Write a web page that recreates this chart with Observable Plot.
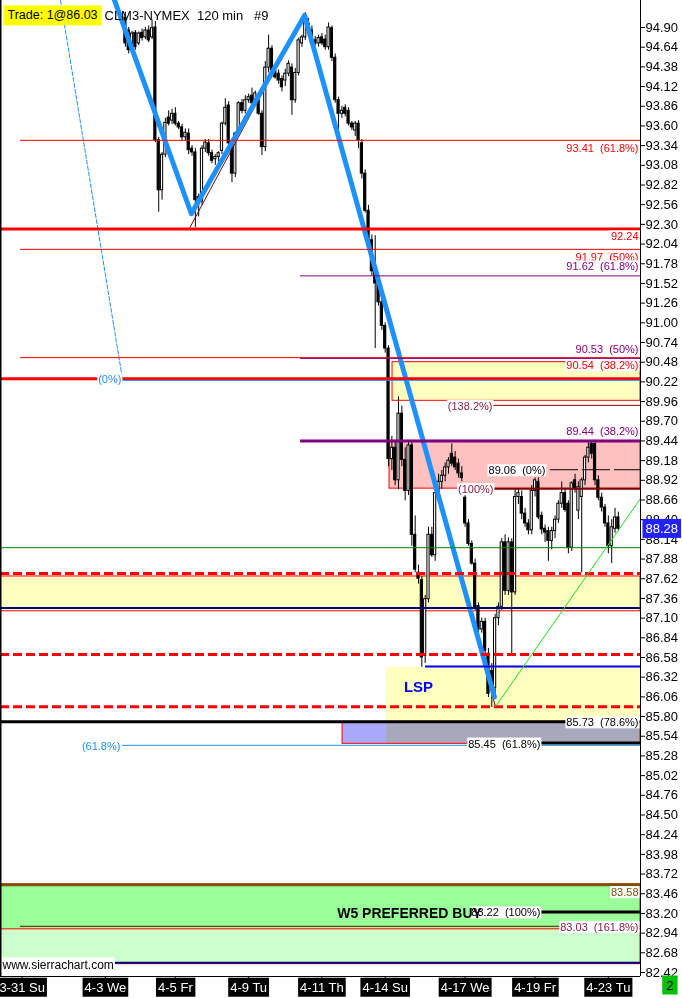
<!DOCTYPE html>
<html>
<head>
<meta charset="utf-8">
<script src="https://cdn.jsdelivr.net/npm/d3@7"></script>
<script src="https://cdn.jsdelivr.net/npm/@observablehq/plot@0.6"></script>
<style>
  html,body{margin:0;padding:0;background:#fff;}
  #chart svg{display:block;}
</style>
</head>
<body>
<div id="chart"></div>
<script>
// ---------- DATA ----------
// 120-min bars, CLM3 (open, high, low, close)
const candles = [
 [95.03,95.10,94.64,94.69],[94.86,94.90,94.55,94.60],[94.60,94.85,94.55,94.82],[94.83,94.86,94.60,94.64],
 [94.69,94.84,94.66,94.82],[94.83,94.88,94.72,94.76],[94.77,94.90,94.74,94.86],[94.86,94.92,94.70,94.73],
 [94.77,95.00,94.74,94.89],[94.90,94.98,93.38,93.41],[93.41,93.45,92.46,92.75],[92.75,93.25,92.62,93.22],
 [93.22,93.70,93.18,93.64],[93.71,93.80,93.60,93.63],[93.67,93.82,93.62,93.76],[93.76,93.84,93.60,93.63],
 [93.63,93.66,93.55,93.58],[93.58,93.62,93.40,93.45],[93.45,93.56,93.40,93.51],[93.50,93.56,93.22,93.28],
 [93.30,93.34,93.20,93.25],[93.25,93.30,92.26,92.62],[92.66,92.70,92.40,92.58],[92.60,93.34,92.55,93.30],
 [93.30,93.42,93.25,93.38],[93.37,93.42,93.20,93.24],[93.24,93.28,93.10,93.14],[93.16,93.22,93.08,93.19],
 [93.19,93.26,93.12,93.24],[93.27,93.65,93.22,93.63],[93.63,93.96,93.60,93.84],[93.87,93.92,93.33,93.37],
 [93.32,93.36,92.85,92.97],[92.97,93.52,92.92,93.50],[93.54,93.92,93.50,93.90],[93.90,93.95,93.76,93.80],
 [93.80,94.00,93.76,93.94],[93.94,94.02,93.90,93.98],[94.00,94.10,93.88,93.90],[93.94,94.06,93.90,94.03],
 [93.94,94.00,93.74,93.76],[93.76,93.80,93.21,93.32],[93.32,94.45,93.26,94.37],[94.37,94.80,94.30,94.62],
 [94.62,94.66,94.30,94.33],[94.33,94.38,94.22,94.24],[94.29,94.34,94.15,94.20],[94.22,94.26,94.05,94.11],
 [94.20,94.35,94.12,94.29],[94.29,94.46,94.25,94.42],[94.37,94.42,93.74,93.94],[93.94,94.36,93.90,94.30],
 [94.30,94.76,94.26,94.73],[94.69,94.80,94.64,94.77],[94.77,95.06,94.73,94.99],[94.95,95.02,94.84,94.86],
 [94.86,94.92,94.66,94.69],[94.73,94.78,94.66,94.69],[94.69,94.80,94.64,94.76],[94.77,94.82,94.66,94.69],
 [94.74,94.80,94.60,94.64],[94.64,94.96,94.60,94.90],[94.89,94.92,94.45,94.50],[94.50,94.55,93.90,93.94],
 [93.94,93.98,93.54,93.76],[93.76,93.86,93.70,93.80],[93.84,93.88,93.72,93.76],[93.80,93.84,93.60,93.63],
 [93.63,93.66,93.54,93.58],[93.54,93.66,93.46,93.63],[93.63,93.67,93.30,93.41],[93.37,93.42,92.90,92.97],
 [92.97,93.02,92.45,92.48],[92.48,92.55,92.04,92.09],[92.09,92.16,91.62,91.68],[91.68,92.15,90.66,91.52],
 [91.52,91.56,91.22,91.27],[91.27,91.32,90.90,90.96],[90.96,91.00,90.60,90.66],[90.66,90.70,89.10,89.20],
 [89.20,89.50,89.05,89.35],[89.35,89.45,88.85,88.92],[88.92,90.02,88.80,89.80],[89.80,89.90,89.10,89.19],
 [89.19,89.35,88.65,88.78],[88.78,89.44,88.72,89.38],[89.38,89.44,88.05,88.20],[88.20,88.45,87.70,87.74],
 [87.70,87.80,87.55,87.62],[87.60,87.65,86.45,86.58],[86.60,87.40,86.50,87.35],[87.35,88.30,87.30,88.20],
 [88.20,88.30,87.90,87.93],[87.93,88.80,87.85,88.75],[88.75,89.00,88.60,88.90],[88.90,89.05,88.80,88.98],
 [88.98,89.15,88.90,89.09],[89.09,89.22,89.00,89.18],[89.27,89.40,89.10,89.14],[89.22,89.30,89.05,89.09],
 [89.14,89.20,88.95,89.01],[89.01,89.10,88.90,88.95],[88.69,88.80,88.30,88.35],[88.35,88.40,88.05,88.08],
 [88.08,88.12,87.80,87.82],[87.82,87.88,87.20,87.24],[87.26,87.30,86.90,86.95],[86.95,87.10,86.90,87.05],
 [87.05,87.10,86.62,86.67],[86.63,86.70,86.05,86.10],[86.40,86.50,85.92,86.18],[86.18,87.15,86.10,87.10],
 [87.10,87.30,87.00,87.25],[87.25,88.15,87.20,88.10],[88.10,88.20,87.40,87.46],[87.46,88.16,87.40,88.10],
 [88.10,88.15,86.62,87.44],[87.44,88.80,87.40,88.70],[88.70,88.80,88.60,88.75],[88.70,88.78,88.40,88.48],
 [88.48,88.55,88.30,88.35],[88.35,88.40,88.20,88.26],[88.26,88.85,88.20,88.78],[88.78,88.95,88.70,88.92],
 [88.90,88.95,88.40,88.43],[88.45,88.50,88.20,88.27],[88.28,88.33,88.10,88.23],[88.25,88.30,87.85,88.12],
 [88.12,88.30,88.00,88.25],[88.25,88.45,88.15,88.40],[88.40,88.65,88.35,88.61],[88.61,88.90,88.55,88.75],
 [88.75,88.80,88.50,88.53],[88.61,88.65,87.95,88.03],[88.03,88.90,87.98,88.88],[88.92,89.00,88.75,88.80],
 [88.52,88.90,88.40,88.83],[88.70,88.95,87.70,88.92],[88.92,89.25,88.85,89.22],[89.22,89.42,89.15,89.35],
 [89.40,89.44,89.20,89.27],[89.40,89.44,88.85,88.92],[88.92,88.98,88.65,88.69],[88.69,88.75,88.50,88.56],
 [88.56,88.60,88.30,88.35],[88.35,88.45,87.95,88.05],[88.05,88.40,87.82,88.30],[88.28,88.55,88.22,88.43],
 [88.43,88.50,88.25,88.28]
];
const lastPrice = 88.28;

// price axis labels (right)
const priceTicks = [94.90,94.64,94.38,94.12,93.86,93.60,93.34,93.08,92.82,92.56,92.30,92.04,91.78,91.52,91.26,
  91.00,90.74,90.48,90.22,89.96,89.70,89.44,89.18,88.92,88.66,88.40,88.14,87.88,87.62,87.36,87.10,86.84,86.58,
  86.32,86.06,85.80,85.54,85.28,85.02,84.76,84.50,84.24,83.98,83.72,83.46,83.20,82.94,82.68,82.42];

// date axis (bar number of each label)
const dateTickBars = [-31, -6, 15, 37, 59, 78, 102, 123, 145];
const dateLabels = ["3-31 Su","4-3 We","4-5 Fr","4-9 Tu","4-11 Th","4-14 Su","4-17 We","4-19 Fr","4-23 Tu"];

// visible window (bars, price)
const X_MIN = -37.5, X_MAX = 154.65, Y_MIN = 82.367, Y_MAX = 95.2566;

// drawn swing lines (bar, price)
const zigzag = [{i:-3.6,p:95.30},{i:19.8,p:92.44},{i:53.8,p:95.06},{i:110.8,p:86.06}];
const zigzagTrace = [{i:19.2,p:92.245},{i:54.05,p:95.10},{i:111.1,p:85.93}];
const swingLine = [{i:111.1,p:85.93},{i:154.65,p:88.68}];
const fibDiagonal = [{i:-19.5,p:95.2566},{i:-0.9,p:90.264}];

// horizontal levels (price, first bar)
const thickRedLevels = [92.24, 90.26];
const thinRedLevels = [{p:93.41,from:-31.5},{p:91.97,from:-31.5},{p:90.54,from:-31.5}];
const purpleLevels = [{p:91.62,from:52.6},{p:90.53,from:52.6}];
const purpleThickLevels = [{p:89.44,from:52.6}];
const maroonLevels = [{p:89.91,from:110},{p:83.03,from:-31.5}];
const maroonThickLevels = [{p:88.81,from:110.5}];
const dashedBlackLevels = [{p:89.06,from:118}];
const greenLevels = [88.03];
const dashedRedLevels = [87.69, 86.62, 85.93];
const navyLevels = [87.235, 82.55];
const blueLevels = [{p:86.46,from:90.1}];
const blackThickLevels = [{p:85.73,from:-37.5},{p:85.45,from:118},{p:83.22,from:118}];
const fibBlueLevels = [{p:90.24,from:-0.9},{p:85.42,from:-0.9}];
const brownLevels = [83.58];

// zones (low, high, first bar)
const yellowZones = [{lo:89.97,hi:90.48,from:80.2},{lo:87.19,hi:87.65,from:-37.5}];
const pinkZones = [{lo:88.81,hi:89.44,from:79.3}];
const lspZone = [{lo:85.44,hi:86.45,from:78.4}];
const lavenderZone = [{lo:85.44,hi:85.73,from:65.2}];
const lightGreenZone = [{lo:82.53,hi:83.58,from:-37.5}];
const greenZone = [{lo:82.99,hi:83.58,from:-37.5}];

// level labels
const rightLabels = [
 {p:93.41, t:"93.41\u00a0\u00a0(61.8%)", kind:"red", side:"below"},
 {p:92.24, t:"92.24", kind:"red", side:"below"},
 {p:91.97, t:"91.97\u00a0\u00a0(50%)", kind:"red", side:"below"},
 {p:91.62, t:"91.62\u00a0\u00a0(61.8%)", kind:"purple", side:"above"},
 {p:90.53, t:"90.53\u00a0\u00a0(50%)", kind:"purple", side:"above"},
 {p:90.54, t:"90.54\u00a0\u00a0(38.2%)", kind:"red", side:"below"},
 {p:89.44, t:"89.44\u00a0\u00a0(38.2%)", kind:"purple", side:"above"},
 {p:85.73, t:"85.73\u00a0\u00a0(78.6%)", kind:"black", side:"on"},
 {p:83.58, t:"83.58", kind:"brown", side:"below"},
 {p:83.03, t:"83.03\u00a0\u00a0(161.8%)", kind:"maroon", side:"on"}
];
const innerLabels = [
 {p:89.91, at:110.2, t:"(138.2%)", kind:"maroon"},
 {p:89.06, at:126.1, t:"89.06\u00a0\u00a0(0%)", kind:"black"},
 {p:88.81, at:110.5, t:"(100%)", kind:"maroon"},
 {p:85.45, at:124.6, t:"85.45\u00a0\u00a0(61.8%)", kind:"black"},
 {p:83.22, at:124.6, t:"83.22\u00a0\u00a0(100%)", kind:"black"},
 {p:90.26, at:-1.2, t:"(0%)", kind:"blue"},
 {p:85.42, at:-1.5, t:"(61.8%)", kind:"blue"}
];
const notes = [{i:88.0, p:86.19, t:"LSP", kind:"lsp"}, {i:85.3, p:83.20, t:"W5 PREFERRED BUY", kind:"w5"}];
const headerTrade = "Trade: 1@86.03";
const headerSymbol = "CLM3-NYMEX\u00a0\u00a0120 min\u00a0\u00a0\u00a0#9";
const watermark = "www.sierrachart.com";
const pageNumber = "2";

// ---------- STYLES ----------
const labelColors = {red:"#ff0000", purple:"#800080", black:"#000000", brown:"#7f5000", maroon:"#8b1c3c", blue:"#1e90ff"};
const sideDy = {above:-9, below:8, on:1};
const xEnd = () => X_MAX;

const bars = candles.map(([o,h,l,c],i) => ({i,o,h,l,c}));
const upBars = bars.filter(d => d.c >= d.o);
const downBars = bars.filter(d => d.c < d.o);
const HW = 0.33;

const marks = [
  // zones
  Plot.rect(lightGreenZone, {x1:"from", x2:xEnd, y1:"lo", y2:"hi", fill:"#ccffcc", stroke:"#ff0000"}),
  Plot.rect(greenZone, {x1:"from", x2:xEnd, y1:"lo", y2:"hi", fill:"#99ff99", stroke:"#ff0000"}),
  Plot.rect(yellowZones, {x1:"from", x2:xEnd, y1:"lo", y2:"hi", fill:"#ffffc0", stroke:"#ff0000"}),
  Plot.rect(pinkZones, {x1:"from", x2:xEnd, y1:"lo", y2:"hi", fill:"#ffc0c0", stroke:"#ff0000"}),
  Plot.rect(lspZone, {x1:"from", x2:xEnd, y1:"lo", y2:"hi", fill:"#ffffc0"}),
  Plot.rect(lavenderZone, {x1:"from", x2:xEnd, y1:"lo", y2:"hi", fill:"#a8a8fc", stroke:"#ff0000", mixBlendMode:"multiply"}),

  // candles
  Plot.ruleX(bars, {x:"i", y1:"l", y2:"h", stroke:"#000", strokeWidth:1}),
  Plot.rect(upBars, {x1:d=>d.i-HW, x2:d=>d.i+HW, y1:"o", y2:"c", fill:"#fff", stroke:"#000", strokeWidth:1}),
  Plot.rect(downBars, {x1:d=>d.i-HW, x2:d=>d.i+HW, y1:"o", y2:"c", fill:"#000", stroke:"#000", strokeWidth:1}),

  // swing drawings
  Plot.line(fibDiagonal, {x:"i", y:"p", stroke:"#1e90ff", strokeWidth:1, strokeDasharray:"4,2", clip:true}),
  Plot.line(zigzagTrace, {x:"i", y:"p", stroke:"#800000", strokeWidth:1, clip:true}),
  Plot.line(zigzag, {x:"i", y:"p", stroke:"#1e90ff", strokeWidth:5, clip:true}),

  // levels
  Plot.ruleY(thinRedLevels, {y:"p", x1:"from", x2:xEnd, stroke:"#ff0000", strokeWidth:1}),
  Plot.ruleY(thickRedLevels, {stroke:"#ff0000", strokeWidth:3}),
  Plot.ruleY(fibBlueLevels, {y:"p", x1:"from", x2:xEnd, stroke:"#1e90ff", strokeWidth:1}),
  Plot.ruleY(purpleLevels, {y:"p", x1:"from", x2:xEnd, stroke:"#800080", strokeWidth:1}),
  Plot.ruleY(purpleThickLevels, {y:"p", x1:"from", x2:xEnd, stroke:"#800080", strokeWidth:3}),
  Plot.ruleY(maroonLevels, {y:"p", x1:"from", x2:xEnd, stroke:"#800000", strokeWidth:1}),
  Plot.ruleY(maroonThickLevels, {y:"p", x1:"from", x2:xEnd, stroke:"#800000", strokeWidth:2}),
  Plot.ruleY(dashedBlackLevels, {y:"p", x1:"from", x2:xEnd, stroke:"#000", strokeWidth:1, strokeDasharray:"28,4"}),
  Plot.ruleY(greenLevels, {stroke:"#008000", strokeWidth:1}),
  Plot.ruleY(dashedRedLevels, {stroke:"#ff0000", strokeWidth:3, strokeDasharray:"9,4"}),
  Plot.ruleY(navyLevels, {stroke:"#000080", strokeWidth:2}),
  Plot.ruleY(blueLevels, {y:"p", x1:"from", x2:xEnd, stroke:"#0000ff", strokeWidth:2}),
  Plot.ruleY(blackThickLevels, {y:"p", x1:"from", x2:xEnd, stroke:"#000", strokeWidth:3}),
  Plot.ruleY(brownLevels, {stroke:"#7f5000", strokeWidth:3}),
  Plot.line(swingLine, {x:"i", y:"p", stroke:"#22dd22", strokeWidth:1, clip:true}),

  // labels
  ...rightLabels.map(l => Plot.text([l], {y:"p", text:"t", frameAnchor:"right", textAnchor:"end", dx:-2,
      dy:sideDy[l.side], fill:labelColors[l.kind], fontSize:11, className:"bg-white"})),
  ...innerLabels.map(l => Plot.text([l], {x:"at", y:"p", text:"t", textAnchor:"end", dy:1,
      fill:labelColors[l.kind], fontSize:11, className:"bg-white"})),
  Plot.text(notes.filter(d=>d.kind==="lsp"), {x:"i", y:"p", text:"t", fill:"#0000ff", fontWeight:"bold", fontSize:15}),
  Plot.text(notes.filter(d=>d.kind==="w5"), {x:"i", y:"p", text:"t", fill:"#000", fontWeight:"bold", fontSize:14}),

  // header / footer texts
  Plot.text([headerTrade], {text:d=>d, frameAnchor:"top-left", textAnchor:"start", dx:7, dy:10, fontSize:12.5, fill:"#000", className:"bg-yellow"}),
  Plot.text([headerSymbol], {text:d=>d, frameAnchor:"top-left", textAnchor:"start", dx:104, dy:10, fontSize:13, fill:"#000"}),
  Plot.text([watermark], {text:d=>d, frameAnchor:"bottom-left", textAnchor:"start", dx:2, dy:-8, fontSize:12, fill:"#000", className:"bg-white"}),

  // axes and frame
  Plot.ruleX([X_MIN], {stroke:"#000", strokeWidth:2}),
  Plot.ruleX([X_MAX], {stroke:"#000", strokeWidth:1}),
  Plot.ruleY([Y_MIN], {stroke:"#000", strokeWidth:1}),
  Plot.axisY({anchor:"right", ticks:priceTicks, tickFormat:d=>d.toFixed(2), tickSize:4, tickPadding:1, fontSize:13, label:null}),
  Plot.axisX({anchor:"bottom", ticks:dateTickBars, tickFormat:d=>dateLabels[dateTickBars.indexOf(d)], tickSize:4, tickPadding:2, fontSize:13, label:null}),
  Plot.text([lastPrice], {y:d=>d, text:d=>d.toFixed(2), frameAnchor:"right", textAnchor:"start", dx:5, fill:"#fff", fontSize:13, className:"bg-blue"}),
  Plot.text([pageNumber], {text:d=>d, frameAnchor:"bottom-right", dx:33, dy:13, fill:"#000", fontSize:13, className:"bg-green"})
];

const chart = Plot.plot({
  width: 682, height: 998,
  marginTop: 0, marginLeft: 0, marginRight: 42, marginBottom: 22,
  x: {domain:[X_MIN, X_MAX], axis:null, label:null},
  y: {domain:[Y_MIN, Y_MAX], axis:null, label:null},
  style: {fontFamily:"'Liberation Sans', Arial, sans-serif", fontSize:"13px", background:"#fff", overflow:"visible"},
  marks
});
document.getElementById("chart").appendChild(chart);

// label background boxes
const bgStyles = {
  "bg-white": {fill:"#ffffff", px:1, py:0},
  "bg-yellow": {fill:"#ffff00", px:4, py:3},
  "bg-blue": {fill:"#2222ff", px:3, py:2},
  "bg-green": {fill:"#00c000", px:4, py:2}
};
function insertBg(t, st) {
  const b = t.getBBox();
  const r = document.createElementNS("http://www.w3.org/2000/svg", "rect");
  r.setAttribute("x", b.x - st.px);
  r.setAttribute("y", b.y - st.py);
  r.setAttribute("width", b.width + 2 * st.px);
  r.setAttribute("height", b.height + 2 * st.py);
  r.setAttribute("fill", st.fill);
  const tr = t.getAttribute("transform");
  if (tr) r.setAttribute("transform", tr);
  t.parentNode.insertBefore(r, t);
}
for (const [name, st] of Object.entries(bgStyles)) {
  const found = new Set([
    ...chart.querySelectorAll(`g.${name} text`),
    ...chart.querySelectorAll(`.${name} text`),
    ...chart.querySelectorAll(`text[aria-label="${name}"]`),
    ...chart.querySelectorAll(`g[aria-label="${name}"] text`)
  ]);
  found.forEach(t => insertBg(t, st));
}
chart.querySelectorAll('g[aria-label="x-axis tick label"] text').forEach(t => {
  insertBg(t, {fill:"#000", px:2, py:2});
  t.setAttribute("fill", "#fff");
});
</script>
</body>
</html>
